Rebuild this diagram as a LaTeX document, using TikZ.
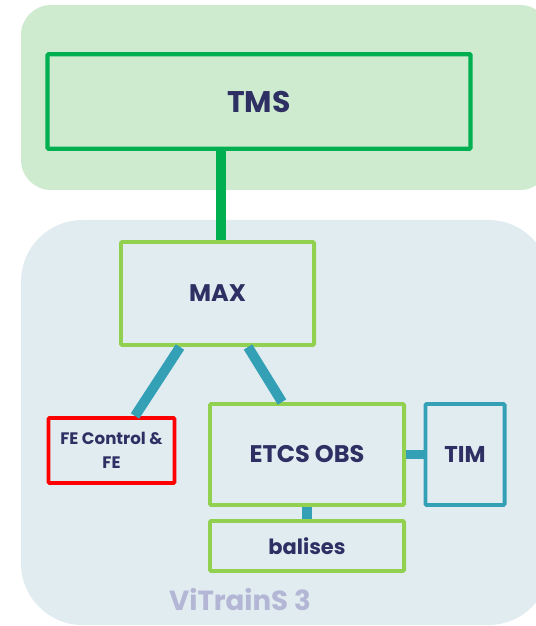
\documentclass[tikz,border=0pt]{standalone}
\usepackage{fontspec}
\setmainfont{Poppins}
\definecolor{navy}{HTML}{2E3063}
\definecolor{tmsgreen}{HTML}{00B050}
\definecolor{maxgreen}{HTML}{92D050}
\definecolor{linkblue}{HTML}{33A0B6}
\definecolor{topzone}{HTML}{CEEBD0}
\definecolor{botzone}{HTML}{E1ECF1}
\definecolor{zonetext}{HTML}{B3B6D4}
\tikzstyle{tms} = [rectangle, minimum width=12.69cm, minimum height=2.835cm, text centered, draw=tmsgreen, line width=3.8pt, rounded corners=1pt, text=navy, font=\bfseries\fontsize{25.5}{30}\selectfont]
\tikzstyle{block} = [rectangle, inner sep=0pt, text centered, draw=maxgreen, line width=3.4pt, rounded corners=1pt, text=navy, font=\bfseries\fontsize{20.5}{24}\selectfont]
\tikzstyle{fe} = [block, draw=red, align=center, font=\bfseries\fontsize{14.2}{20}\selectfont]
\tikzstyle{tim} = [block, draw=linkblue]
\tikzstyle{link} = [line width=8.5pt, draw=linkblue]

\begin{document}
\begin{tikzpicture}[x=0.03cm, y=-0.03cm]
    \useasboundingbox (0,0) rectangle (535,626);
    % zones
    \fill [topzone, rounded corners=0.9cm] (21,5) rectangle (550,190);
    \fill [botzone, rounded corners=1.85cm] (21,220) rectangle (550,625);
    \node (vitrains) [text=zonetext, font=\bfseries\fontsize{23.6}{28}\selectfont] at (240,600) {ViTrainS 3};

    \node (tms) [tms] at (259,101.5) {TMS};
    \node (max) [block, minimum width=5.79cm, minimum height=3.09cm] at (217.5,293.5) {MAX};
    \node (fe) [fe, minimum width=3.78cm, minimum height=1.95cm] at (111.5,450.5) {FE Control \&\\FE};
    \node (etcs) [block, minimum width=5.82cm, minimum height=3.03cm] at (307,454.5) {ETCS OBS};
    \node (tim) [tim, minimum width=2.37cm, minimum height=3.03cm, font=\bfseries\fontsize{19.5}{24}\selectfont] at (465,454.5) {TIM};
    \node (balises) [block, minimum width=5.82cm, minimum height=1.5cm, font=\bfseries\fontsize{17.9}{20}\selectfont] at (307,546) {balises};

    \draw [line width=9pt, tmsgreen] ([xshift=0.1cm]max.north) -- ([xshift=0.1cm]max.north |- tms.south);
    \draw [link] ([xshift=-1.125cm]max.south) -- ([xshift=0.705cm]fe.north);
    \draw [link] ([xshift=0.915cm]max.south) -- ([xshift=-0.75cm]etcs.north);
    \draw [link] (etcs) -- (tim);
    \draw [link] (etcs) -- (balises);
\end{tikzpicture}
\end{document}
